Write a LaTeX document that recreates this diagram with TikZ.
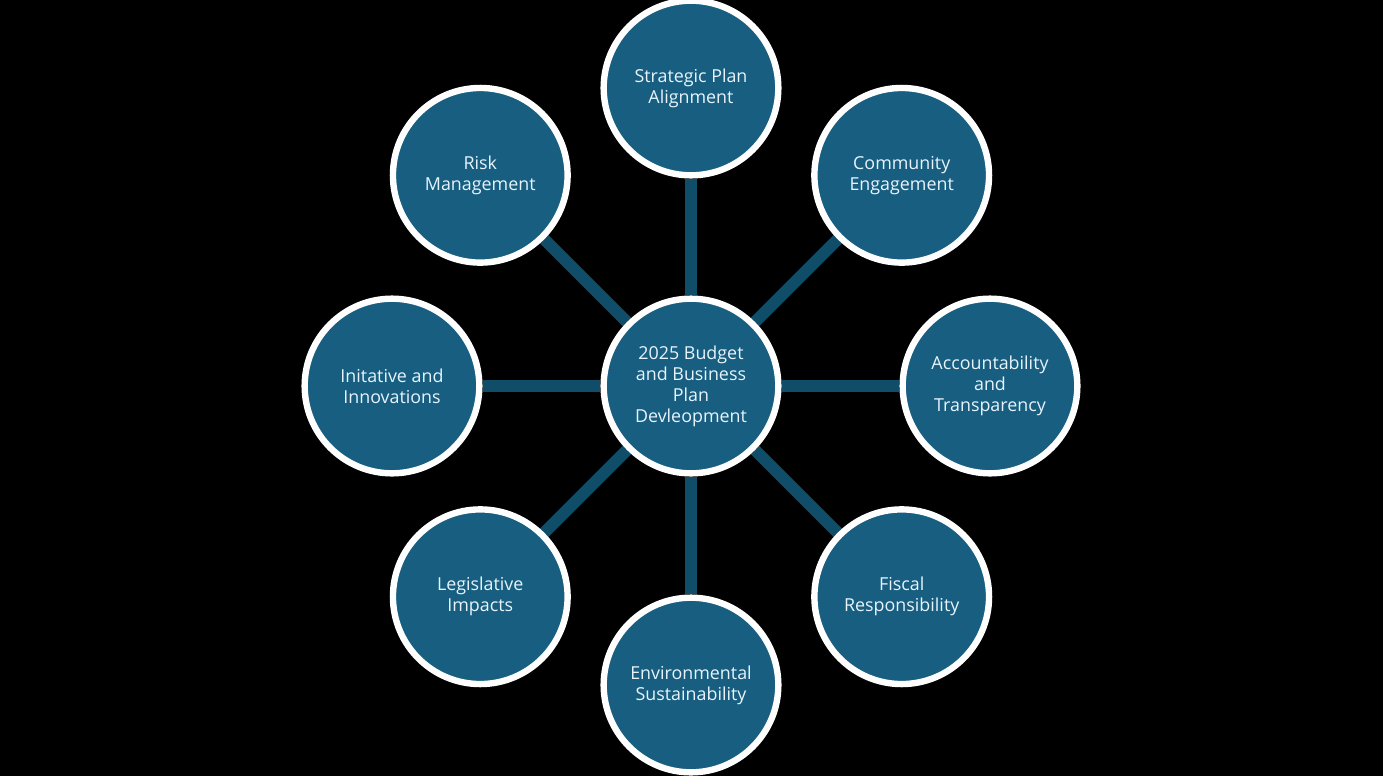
\documentclass[tikz,border=0pt]{standalone}
\usepackage{fontspec}
\setmainfont{Open Sans}
\usetikzlibrary{backgrounds}
\definecolor{hubblue}{RGB}{23,94,128}
\definecolor{spokeblue}{RGB}{15,77,105}
\definecolor{hubtext}{RGB}{232,244,252}
\tikzset{
  topic/.style={circle,draw=white,line width=4.8pt,fill=hubblue,minimum size=131pt,
    inner sep=0pt,align=center,text=hubtext,font=\fontsize{13.4}{15.8}\selectfont},
  spoke/.style={spokeblue,line width=9pt}
}
\begin{document}
\begin{tikzpicture}[x=0.75pt,y=0.75pt]
            \useasboundingbox (-691,-390) rectangle (692,386);
            \node[topic] (ctr) at (0,0) {2025 Budget\\and Business\\Plan\\Devleopment};
            \node[topic] (sp) at (90:298) {Strategic Plan\\Alignment};
            \node[topic] (ce) at (45:298) {Community\\Engagement};
            \node[topic] (at) at (0:299) {Accountability\\and\\Transparency};
            \node[topic] (fr) at (-45:298) {Fiscal\\Responsibility};
            \node[topic] (es) at (-90:299) {Environmental\\Sustainability};
            \node[topic] (lg) at (-135:298) {Legislative\\Impacts};
            \node[topic] (ii) at (180:299) {Initative and\\Innovations};
            \node[topic] (rm) at (135:298) {Risk\\Management};
            \begin{pgfonlayer}{background}
            \fill[black] (-691,-390) rectangle (692,386);
            \foreach \sat in {sp,ce,at,fr,es,lg,ii,rm}
            \draw[spoke] (ctr) -- (\sat);
            \end{pgfonlayer}
        \end{tikzpicture}
\end{document}
